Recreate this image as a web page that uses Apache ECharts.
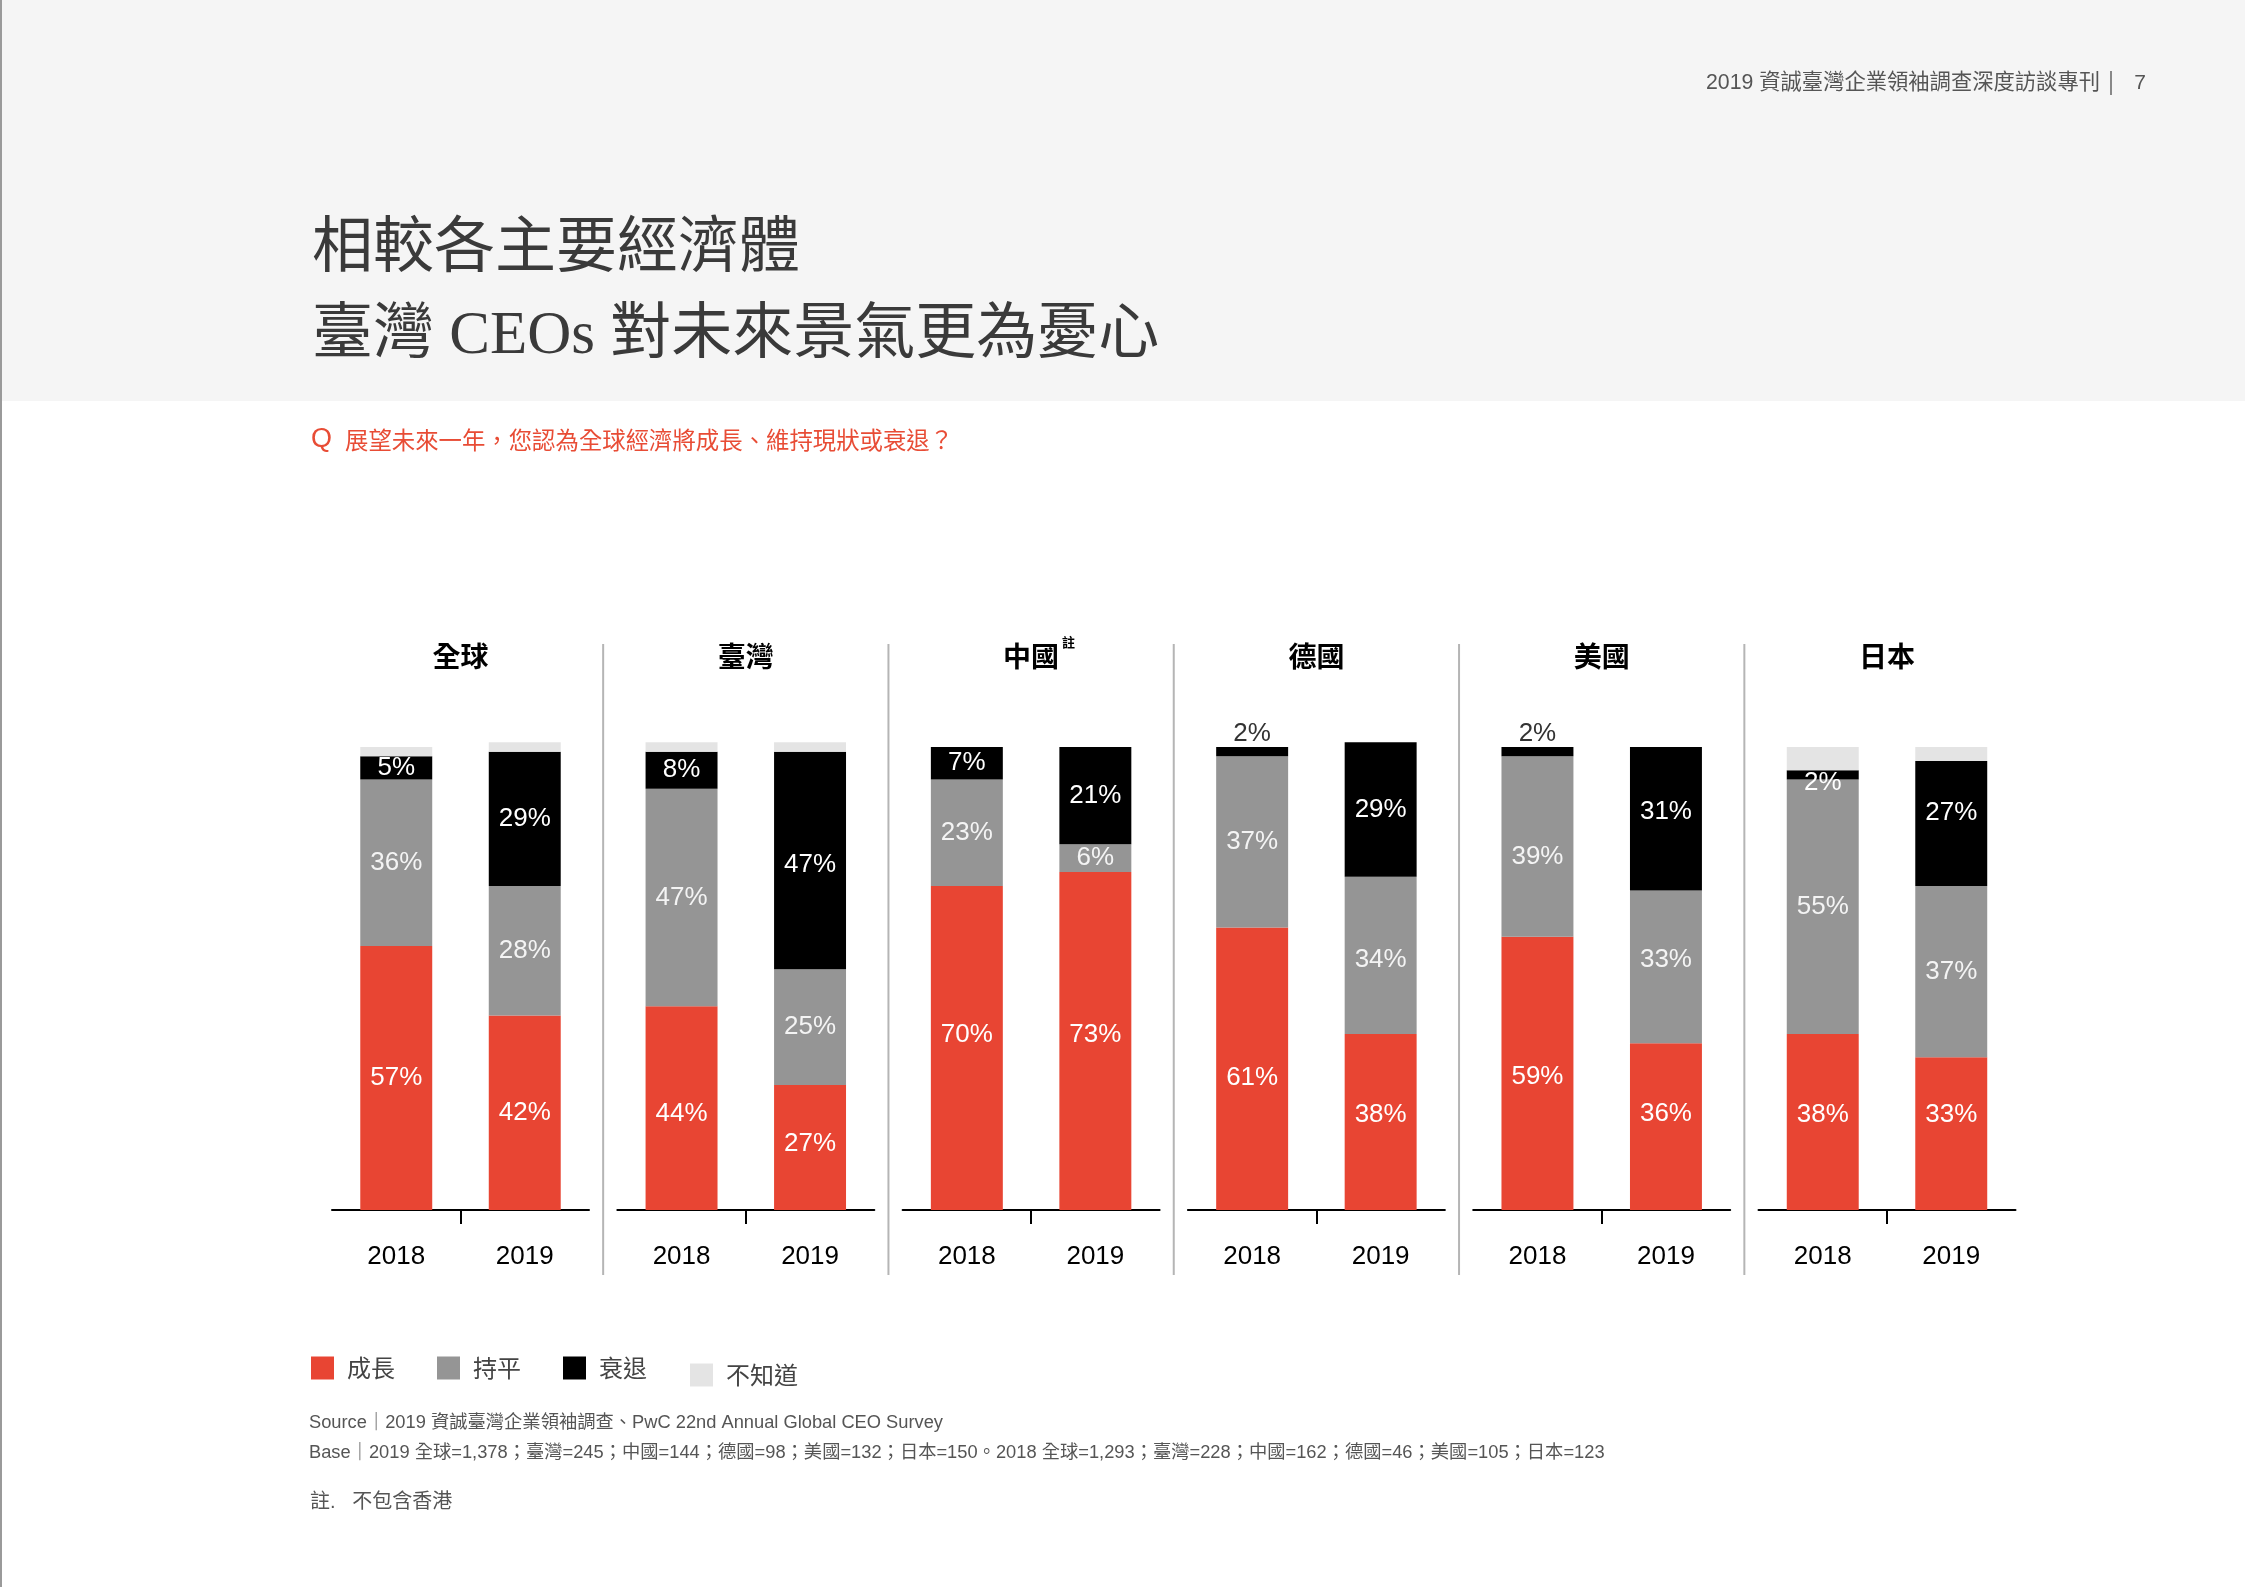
<!DOCTYPE html>
<html><head><meta charset="utf-8">
<script src="https://cdn.jsdelivr.net/npm/echarts@6/dist/echarts.min.js"></script>
<style>html,body{margin:0;padding:0;background:#fff}#c{width:2245px;height:1587px}</style>
</head><body><div id="c"></div>
<script>
// ---- data ----
const regions = ['全球', '臺灣', '中國', '德國', '美國', '日本'];
const years = ['2018', '2019'];
const growth  = [[57, 42], [44, 27], [70, 73], [61, 38], [59, 36], [38, 33]];
const flat    = [[36, 28], [47, 25], [23, 6], [37, 34], [39, 33], [55, 37]];
const decline = [[5, 29], [8, 47], [7, 21], [2, 29], [2, 31], [2, 27]];
const unknown = [[2, 2], [2, 2], [0, 0], [0, 0], [0, 0], [5, 3]];
const seriesNames = ['成長', '持平', '衰退', '不知道'];

// ---- style / layout ----
const colors = ['#e84533', '#959595', '#000000', '#e4e4e4'];
const labelColors = ['#ffffff', '#f4f4f4', '#ffffff', '#ffffff'];
// vertical label nudges (px) per series / panel / year, as placed in the original layout
const labelNudge = [
  [[0, 0], [6, -4], [-13, -6], [9, -7], [3, -13], [-7, -19]],
  [[0, 0], [0, 0], [0, 0], [0, 4], [10, -7], [0, 0]],
  [[0, 0], [0, 4], [0, 0], [0, 0], [0, -7], [0, -11]]
];
const CJK = '"Noto Sans CJK TC", "Noto Sans", sans-serif';
const LAT = '"Liberation Sans", Arial, sans-serif';
const LATCJK = '"Liberation Sans", "Noto Sans CJK TC", sans-serif';
const P0 = 332, STEP = 285.3, PW = 257, BASE = 1210, PH = 463;

const chart = echarts.init(document.getElementById('c'), null, {renderer: 'canvas'});
const grids = [], xAxes = [], yAxes = [], series = [];
const valueSets = [growth, flat, decline, unknown];

regions.forEach((r, k) => {
  grids.push({left: P0 + k * STEP, width: PW, top: BASE - PH, height: PH});
  xAxes.push({
    type: 'category', gridIndex: k, data: years, position: 'bottom',
    axisLine: {show: true, lineStyle: {color: '#000', width: 2}},
    axisTick: {show: false},
    axisLabel: {fontSize: 26, color: '#000', margin: 34, fontFamily: LAT}
  });
  xAxes.push({
    type: 'value', gridIndex: k, min: 0, max: 2, position: 'bottom',
    axisLine: {show: false}, splitLine: {show: false},
    axisTick: {show: true, customValues: [1], length: 14, inside: false, lineStyle: {color: '#000', width: 2}},
    axisLabel: {show: false}
  });
  yAxes.push({type: 'value', gridIndex: k, min: 0, max: 100, show: false, splitLine: {show: false}});
  seriesNames.forEach((name, s) => {
    const vals = valueSets[s][k];
    series.push({
      type: 'bar', name, stack: 'p' + k, xAxisIndex: 2 * k, yAxisIndex: k,
      barWidth: '56%', clip: false, silent: true,
      itemStyle: {color: colors[s]},
      label: s < 3 ? {show: true, position: 'inside', formatter: '{c}%', color: labelColors[s], fontSize: 26, fontFamily: LAT} : {show: false},
      data: vals.map((v, i) => {
        if (s === 3) return v;
        const dy = labelNudge[s][k][i];
        if (s === 2 && v <= 3) {
          if (unknown[k][i] === 0) {
            return {value: v, label: {position: 'top', distance: 0, color: '#333'}};
          }
          return {value: v, label: {position: 'inside', offset: [0, 8 + dy]}};
        }
        return dy ? {value: v, label: {offset: [0, dy]}} : v;
      })
    });
  });
});

const mid = {textVerticalAlign: 'middle', verticalAlign: 'middle'};
const graphics = [
  {type: 'rect', shape: {x: 0, y: 0, width: 2245, height: 401}, style: {fill: '#f5f5f5'}, z: -10},
  {type: 'rect', shape: {x: 0, y: 0, width: 2, height: 1587}, style: {fill: '#9a9a9a'}, z: -5},
  {type: 'text', x: 2100, y: 83, style: Object.assign({text: '2019 資誠臺灣企業領袖調查深度訪談專刊', font: '21.3px ' + LATCJK, fill: '#555', textAlign: 'right', align: 'right'}, mid)},
  {type: 'rect', shape: {x: 2110, y: 71, width: 2, height: 24}, style: {fill: '#888'}},
  {type: 'text', x: 2146, y: 83, style: Object.assign({text: '7', font: '21px ' + LAT, fill: '#555', textAlign: 'right', align: 'right'}, mid)},
  {type: 'text', x: 312, y: 251, style: Object.assign({text: '相較各主要經濟體', font: '61px "Liberation Serif", ' + CJK, fill: '#3a3a3a'}, mid)},
  {type: 'text', x: 312, y: 337, style: Object.assign({text: '臺灣 CEOs 對未來景氣更為憂心', font: '61px "Liberation Serif", ' + CJK, fill: '#3a3a3a'}, mid)},
  {type: 'text', x: 311, y: 440, style: Object.assign({text: 'Q', font: '27px ' + LAT, fill: '#e84c35'}, mid)},
  {type: 'text', x: 345, y: 440, style: Object.assign({text: '展望未來一年，您認為全球經濟將成長、維持現狀或衰退？', font: '23.4px ' + CJK, fill: '#e84c35'}, mid)},
  {type: 'text', x: 309, y: 1423, style: Object.assign({text: 'Source｜2019 資誠臺灣企業領袖調查、PwC 22nd Annual Global CEO Survey', font: '18.3px ' + LATCJK, fill: '#555'}, mid)},
  {type: 'text', x: 309, y: 1453, style: Object.assign({text: 'Base｜2019 全球=1,378；臺灣=245；中國=144；德國=98；美國=132；日本=150。2018 全球=1,293；臺灣=228；中國=162；德國=46；美國=105；日本=123', font: '18.3px ' + LATCJK, fill: '#555'}, mid)},
  {type: 'text', x: 310, y: 1502, style: Object.assign({text: '註.   不包含香港', font: '20px ' + LATCJK, fill: '#555'}, mid)}
];
regions.forEach((r, k) => {
  const cx = P0 + PW / 2 + k * STEP;
  graphics.push({type: 'text', x: cx, y: 656, style: Object.assign({text: r, font: 'bold 28px ' + CJK, fill: '#000', textAlign: 'center', align: 'center'}, mid)});
  if (r === '中國') {
    graphics.push({type: 'text', x: cx + 31, y: 642, style: Object.assign({text: '註', font: 'bold 13px ' + CJK, fill: '#000'}, mid)});
  }
  if (k < regions.length - 1) {
    const dx = P0 + PW + (STEP - PW) / 2 + k * STEP;
    graphics.push({type: 'line', shape: {x1: dx, y1: 644, x2: dx, y2: 1275}, style: {stroke: '#b5b5b5', lineWidth: 2}});
  }
});

chart.setOption({
  animation: false,
  backgroundColor: '#ffffff',
  grid: grids, xAxis: xAxes, yAxis: yAxes, series,
  legend: [
    {data: seriesNames.slice(0, 3), left: 311, top: 1356, padding: 0, icon: 'rect', itemWidth: 23, itemHeight: 23, itemGap: 42,
     selectedMode: false, textStyle: {fontSize: 24, color: '#444', fontFamily: CJK, padding: [0, 0, 0, 8]}},
    {data: seriesNames.slice(3), left: 690, top: 1363, padding: 0, icon: 'rect', itemWidth: 23, itemHeight: 23,
     selectedMode: false, textStyle: {fontSize: 24, color: '#444', fontFamily: CJK, padding: [0, 0, 0, 8]}}
  ],
  graphic: graphics
});
</script></body></html>
